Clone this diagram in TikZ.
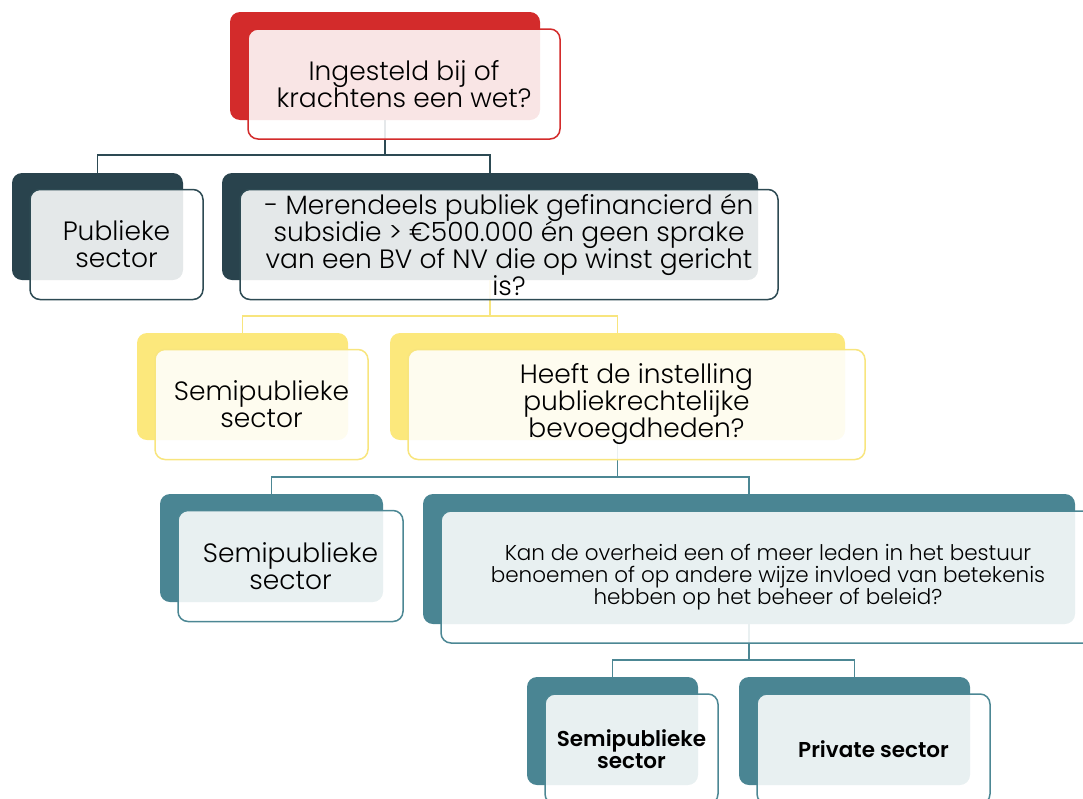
\documentclass[tikz,border=0pt]{standalone}
\usepackage{fontspec}
\setmainfont{Poppins}[UprightFont=* Light, BoldFont=* SemiBold]
\usepackage{tikz}
\usetikzlibrary{calc}
\definecolor{redBox}{HTML}{D32B2B}
\definecolor{darkBox}{HTML}{29434D}
\definecolor{yellowBox}{HTML}{FCE87C}
\definecolor{tealBox}{HTML}{4A8593}
\definecolor{darkLine}{HTML}{2D4A53}
\definecolor{yellowLine}{HTML}{F8E57E}
\definecolor{tealLine}{HTML}{4C8794}
\newcommand{\bigText}{\fontsize{26.5}{27}\selectfont\lineskiplimit=-30pt}
\newcommand{\smallText}{\fontsize{21.5}{22}\selectfont\lineskiplimit=-30pt}
\newcommand{\boldText}{\fontsize{21.5}{22}\selectfont\bfseries\lineskiplimit=-30pt}
\tikzset{
  backbox/.style={rectangle, rounded corners=10pt, inner sep=0pt, fill=#1},
  frontbox/.style={rectangle, rounded corners=10pt, inner sep=2pt, draw=#1, line width=1.5pt,
    fill=white, fill opacity=0.88, text opacity=1, align=center, text=black, font=\bigText},
  link/.style={line width=1.6pt, draw=#1}
}

\begin{document}
\begin{tikzpicture}[x=1pt, y=-1pt]
\useasboundingbox (0,0) rectangle (1083,798);

% back boxes
\node (wetB) [backbox=redBox, minimum width=310pt, minimum height=108pt] at (385,66) {};
\node (pubB) [backbox=darkBox, minimum width=171pt, minimum height=107pt] at (97.5,226.5) {};
\node (merB) [backbox=darkBox, minimum width=536pt, minimum height=107pt] at (490,226.5) {};
\node (semiAB) [backbox=yellowBox, minimum width=211pt, minimum height=107pt] at (242.5,386.5) {};
\node (bevB) [backbox=yellowBox, minimum width=455pt, minimum height=107pt] at (617.5,386.5) {};
\node (semiBB) [backbox=tealBox, minimum width=223pt, minimum height=108pt] at (271.5,548) {};
\node (kanB) [backbox=tealBox, minimum width=652pt, minimum height=130pt] at (749,559) {};
\node (semiCB) [backbox=tealBox, minimum width=171pt, minimum height=108pt] at (612.5,731) {};
\node (privB) [backbox=tealBox, minimum width=231pt, minimum height=108pt] at (854.5,731) {};

% connectors
\coordinate (j1) at (385,155);
\coordinate (j2) at (490,316);
\coordinate (j3) at (617.5,477);
\coordinate (j4) at (749,660);
\draw[link=darkLine] (wetB.south) -- (j1);
\draw[link=darkLine] (pubB.north) |- (j1) -| (merB.north);
\draw[link=yellowLine] (merB.south) -- (j2);
\draw[link=yellowLine] (semiAB.north) |- (j2) -| (bevB.north);
\draw[link=tealLine] (bevB.south) -- (j3);
\draw[link=tealLine] (semiBB.north) |- (j3) -| (kanB.north);
\draw[link=tealLine] (kanB.south) -- (j4);
\draw[link=tealLine] (semiCB.north) |- (j4) -| (privB.north);

% front boxes
\node (wet) [frontbox=redBox, minimum width=312pt, minimum height=110pt] at ([shift={(19,18)}]wetB.center) {Ingesteld bij of\\ krachtens een wet?};
\node (pub) [frontbox=darkLine, minimum width=173pt, minimum height=110pt] at ([shift={(19,18)}]pubB.center) {Publieke\\ sector};
\node (mer) [frontbox=darkLine, minimum width=538pt, minimum height=110pt] at ([shift={(19,18)}]merB.center) {- Merendeels publiek gefinancierd én\\ subsidie > €500.000 én geen sprake\\ van een BV of NV die op winst gericht\\ is?};
\node (semiA) [frontbox=yellowLine, minimum width=213pt, minimum height=110pt] at ([shift={(19,18)}]semiAB.center) {Semipublieke\\ sector};
\node (bev) [frontbox=yellowLine, minimum width=457pt, minimum height=110pt] at ([shift={(19,18)}]bevB.center) {Heeft de instelling\\ publiekrechtelijke\\ bevoegdheden?};
\node (semiB) [frontbox=tealLine, minimum width=225pt, minimum height=111pt] at ([shift={(19,18)}]semiBB.center) {Semipublieke\\ sector};
\node (kan) [frontbox=tealLine, minimum width=654pt, minimum height=132pt, font=\smallText] at ([shift={(19,18)}]kanB.center) {Kan de overheid een of meer leden in het bestuur\\ benoemen of op andere wijze invloed van betekenis\\ hebben op het beheer of beleid?};
\node (semiC) [frontbox=tealLine, minimum width=173pt, minimum height=110pt, font=\boldText] at ([shift={(19,18)}]semiCB.center) {Semipublieke\\ sector};
\node (priv) [frontbox=tealLine, minimum width=233pt, minimum height=110pt, font=\boldText] at ([shift={(19,18)}]privB.center) {Private sector};
\end{tikzpicture}
\end{document}
